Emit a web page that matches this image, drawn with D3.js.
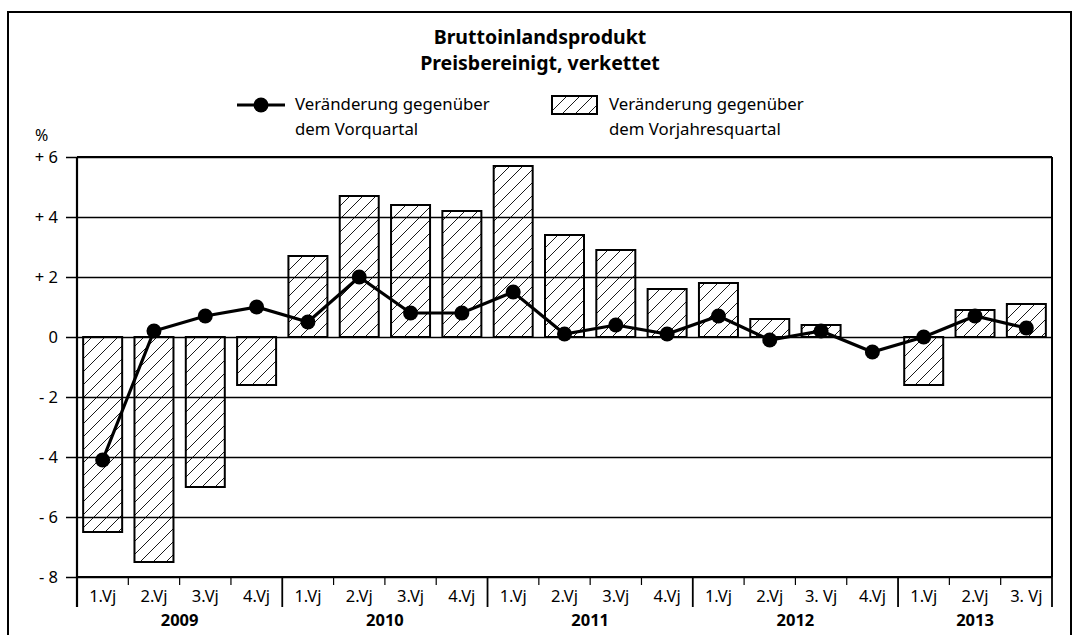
<!DOCTYPE html>
<html>
<head>
<meta charset="utf-8">
<script src="https://cdn.jsdelivr.net/npm/d3@7"></script>
<style>
  body { margin: 0; background: #fff; }
  text { font-family: "Noto Sans", sans-serif; fill: #000; }
</style>
</head>
<body>
<svg width="1080" height="635"></svg>
<script>
// quarter labels and year groups
var quarters = ["1.Vj","2.Vj","3.Vj","4.Vj","1.Vj","2.Vj","3.Vj","4.Vj","1.Vj","2.Vj","3.Vj","4.Vj",
                "1.Vj","2.Vj","3. Vj","4.Vj","1.Vj","2.Vj","3. Vj"];
var years = ["2009","2010","2011","2012","2013"];
// change vs. same quarter previous year (bars)
var vorjahr = [-6.5,-7.5,-5.0,-1.6, 2.7,4.7,4.4,4.2, 5.7,3.4,2.9,1.6, 1.8,0.6,0.4,0.0, -1.6,0.9,1.1];
// change vs. previous quarter (line)
var vorquartal = [-4.1,0.2,0.7,1.0, 0.5,2.0,0.8,0.8, 1.5,0.1,0.4,0.1, 0.7,-0.1,0.2,-0.5, 0.0,0.7,0.3];
var yTicks = [6,4,2,0,-2,-4,-6,-8];
var yTickLabels = ["+ 6","+ 4","+ 2","0","- 2","- 4","- 6","- 8"];

var svg = d3.select("svg");
var plotLeft = 77, plotRight = 1052, plotTop = 157, plotBottom = 577;

// hatch pattern
var defs = svg.append("defs");
defs.append("pattern")
    .attr("id", "hatch")
    .attr("patternUnits", "userSpaceOnUse")
    .attr("width", 13)
    .attr("height", 13)
  .append("path")
    .attr("d", "M0,13 L13,0 M-3,3 L3,-3 M10,16 L16,10")
    .attr("stroke", "#000")
    .attr("stroke-width", 0.9);

// outer frame
svg.append("rect")
    .attr("x", 8).attr("y", 12)
    .attr("width", 1063).attr("height", 700)
    .attr("fill", "none")
    .attr("stroke", "#000")
    .attr("stroke-width", 2);

var xScale = d3.scaleBand()
    .domain(d3.range(quarters.length))
    .range([plotLeft, plotRight])
    .paddingInner(0.24)
    .paddingOuter(0.12);
var step = xScale.step();

var yScale = d3.scaleLinear()
    .domain([-8, 6])
    .range([plotBottom, plotTop]);

// gridlines + y ticks
var yAxis = d3.axisLeft(yScale)
    .tickValues(yTicks)
    .tickSize(-(plotRight - plotLeft))
    .tickSizeOuter(0)
    .tickFormat((d, i) => yTickLabels[i]);

var gy = svg.append("g")
    .attr("transform", "translate(" + plotLeft + ",0)")
    .call(yAxis)
    .attr("font-size", 16.5)
    .attr("font-family", "'Noto Sans', sans-serif");
gy.select(".domain").remove();
gy.selectAll(".tick line")
    .attr("x1", -11)
    .attr("stroke", "#000")
    .attr("stroke-width", 1.6);
gy.selectAll(".tick text")
    .attr("x", -19)
    .attr("dy", "0.35em");

svg.append("text")
    .attr("x", 35).attr("y", 141)
    .style("font-size", "16px")
    .text("%");

// bars
svg.selectAll("rect.bar")
  .data(vorjahr)
  .enter()
  .append("rect")
    .attr("class", "bar")
    .attr("x", (d, i) => xScale(i))
    .attr("y", d => yScale(Math.max(0, d)))
    .attr("width", xScale.bandwidth())
    .attr("height", d => Math.abs(yScale(d) - yScale(0)))
    .attr("fill", "url(#hatch)")
    .attr("stroke", "#000")
    .attr("stroke-width", 2);

// plot frame: left axis line, right edge, top, bottom
svg.append("line")
    .attr("x1", plotLeft).attr("x2", plotLeft)
    .attr("y1", plotTop).attr("y2", 607)
    .attr("stroke", "#000").attr("stroke-width", 2.2);
svg.append("line")
    .attr("x1", plotRight).attr("x2", plotRight)
    .attr("y1", plotTop).attr("y2", plotBottom)
    .attr("stroke", "#000").attr("stroke-width", 2);
svg.append("line")
    .attr("x1", plotLeft).attr("x2", plotRight)
    .attr("y1", plotTop).attr("y2", plotTop)
    .attr("stroke", "#000").attr("stroke-width", 2);
svg.append("line")
    .attr("x1", plotLeft).attr("x2", plotRight)
    .attr("y1", plotBottom).attr("y2", plotBottom)
    .attr("stroke", "#000").attr("stroke-width", 2.2);

// line series
var line = d3.line()
    .x((d, i) => xScale(i) + xScale.bandwidth() / 2)
    .y(d => yScale(d));

svg.append("path")
    .datum(vorquartal)
    .attr("d", line)
    .attr("fill", "none")
    .attr("stroke", "#000")
    .attr("stroke-width", 3.2);

svg.selectAll("circle.pt")
  .data(vorquartal)
  .enter()
  .append("circle")
    .attr("class", "pt")
    .attr("cx", (d, i) => xScale(i) + xScale.bandwidth() / 2)
    .attr("cy", d => yScale(d))
    .attr("r", 7.5)
    .attr("fill", "#000");

// x axis: quarter separators, labels, years
var seps = d3.range(quarters.length + 1);
svg.selectAll("line.sep")
  .data(seps)
  .enter()
  .append("line")
    .attr("class", "sep")
    .attr("x1", i => plotLeft + i * step)
    .attr("x2", i => plotLeft + i * step)
    .attr("y1", plotBottom)
    .attr("y2", i => (i % 4 === 0 || i === quarters.length) ? 607 : 585)
    .attr("stroke", "#000")
    .attr("stroke-width", i => (i % 4 === 0 || i === quarters.length) ? 1.8 : 1.2);

svg.selectAll("text.q")
  .data(quarters)
  .enter()
  .append("text")
    .attr("class", "q")
    .attr("x", (d, i) => xScale(i) + xScale.bandwidth() / 2)
    .attr("y", 602)
    .attr("text-anchor", "middle")
    .style("font-size", "16.5px")
    .text(d => d);

svg.selectAll("text.yr")
  .data(years)
  .enter()
  .append("text")
    .attr("class", "yr")
    .attr("x", (d, i) => {
      var first = i * 4;
      var last = Math.min(first + 4, quarters.length);
      return plotLeft + (first + last) / 2 * step;
    })
    .attr("y", 626)
    .attr("text-anchor", "middle")
    .style("font-size", "16.5px")
    .style("font-weight", "bold")
    .text(d => d);

// title
svg.append("text")
    .attr("x", 540).attr("y", 44)
    .attr("text-anchor", "middle")
    .style("font-size", "19.5px")
    .style("font-weight", "bold")
    .text("Bruttoinlandsprodukt");
svg.append("text")
    .attr("x", 540).attr("y", 70)
    .attr("text-anchor", "middle")
    .style("font-size", "19.5px")
    .style("font-weight", "bold")
    .text("Preisbereinigt, verkettet");

// legend
var lg = svg.append("g");
lg.append("line")
    .attr("x1", 237).attr("x2", 285)
    .attr("y1", 105).attr("y2", 105)
    .attr("stroke", "#000").attr("stroke-width", 3.2);
lg.append("circle")
    .attr("cx", 261).attr("cy", 105).attr("r", 7.5)
    .attr("fill", "#000");
lg.append("text")
    .attr("x", 295).attr("y", 110)
    .style("font-size", "16.8px")
    .text("Veränderung gegenüber");
lg.append("text")
    .attr("x", 295).attr("y", 135)
    .style("font-size", "16.8px")
    .text("dem Vorquartal");

lg.append("rect")
    .attr("x", 552).attr("y", 96)
    .attr("width", 45).attr("height", 18)
    .attr("fill", "url(#hatch)")
    .attr("stroke", "#000").attr("stroke-width", 2);
lg.append("text")
    .attr("x", 609).attr("y", 110)
    .style("font-size", "16.8px")
    .text("Veränderung gegenüber");
lg.append("text")
    .attr("x", 609).attr("y", 135)
    .style("font-size", "16.8px")
    .text("dem Vorjahresquartal");
</script>
</body>
</html>
